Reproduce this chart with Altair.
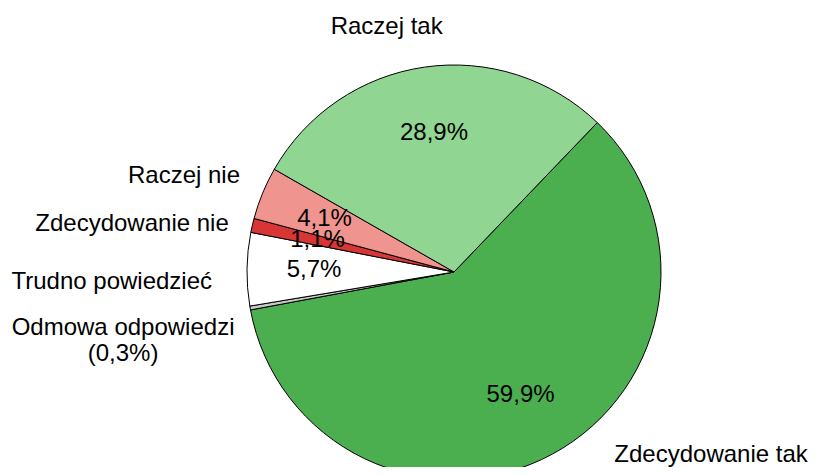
import math
import altair as alt
import pandas as pd

# slice data (clockwise order starting at ~43.8 deg)
categories = ["Zdecydowanie tak", "Odmowa odpowiedzi", "Trudno powiedzieć",
              "Zdecydowanie nie", "Raczej nie", "Raczej tak"]
values = [59.9, 0.3, 5.7, 1.1, 4.1, 28.9]
pct_labels = ["59,9%", "", "5,7%", "1,1%", "4,1%", "28,9%"]
colors = ["#4caf4f", "#c8c8c8", "#ffffff", "#d83535", "#f09490", "#90d592"]

# outside category labels: angle (deg, clockwise from 12 o'clock) and distance
out_labels = ["Zdecydowanie tak", "Odmowa odpowiedzi\n(0,3%)", "Trudno powiedzieć",
              "Zdecydowanie nie", "Raczej nie", "Raczej tak"]
out_angles = [126.4, 259.2, 267.1, 277.3, 288.2, 344.2]
out_radii = [319.4, 336.9, 342.7, 324.6, 284.2, 247.3]

START = math.radians(43.8)
CX, CY = 446, 264
R = 207
FONT = "Liberation Sans"

df = pd.DataFrame({"cat": categories, "value": values, "pct": pct_labels,
                   "idx": list(range(len(categories)))})
lab = pd.DataFrame({"label": out_labels, "angle": out_angles, "r": out_radii})

theta_scale = alt.Scale(range=[START, START + 2 * math.pi])
color = alt.Color("cat:N", scale=alt.Scale(domain=categories, range=colors), legend=None)

base = alt.Chart(df)

arcs = base.mark_arc(outerRadius=R, stroke="#000000", strokeWidth=1).encode(
    theta=alt.Theta("value:Q", stack=True, scale=theta_scale),
    order=alt.Order("idx:Q"),
    color=color,
    x=alt.value(CX), y=alt.value(CY),
)

inner = base.mark_text(font=FONT, fontSize=24, color="#000000",
                       align="center", baseline="middle").encode(
    theta=alt.Theta("value:Q", stack=True, scale=theta_scale),
    order=alt.Order("idx:Q"),
    radius=alt.value(140),
    text="pct:N",
    x=alt.value(CX), y=alt.value(CY),
)

outer = alt.Chart(lab).mark_text(font=FONT, fontSize=24, color="#000000",
                                 align="center", baseline="alphabetic",
                                 lineBreak="\n", lineHeight=26).encode(
    theta=alt.Theta("angle:Q", stack=None,
                    scale=alt.Scale(type="linear", domain=[0, 360], range=[0, 2 * math.pi])),
    radius=alt.Radius("r:Q", scale=alt.Scale(type="linear", domain=[0, 400],
                                              range=[0, 400], zero=True)),
    text="label:N",
    x=alt.value(CX), y=alt.value(CY),
)

chart = alt.layer(arcs, inner, outer).resolve_scale(
    theta="independent", radius="independent"
).properties(
    width=803, height=459, padding=0,
    autosize=alt.AutoSizeParams(type="none"),
).configure_view(stroke=None)

chart.save("out.html", embed_options={"renderer": "svg", "actions": False})
